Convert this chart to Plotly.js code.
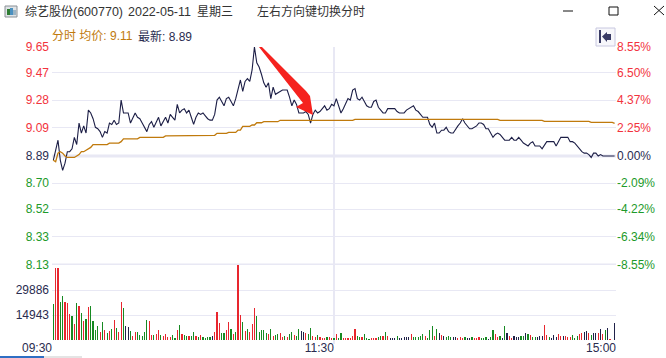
<!DOCTYPE html>
<html><head><meta charset="utf-8">
<script src="https://cdn.plot.ly/plotly-3.0.1.min.js"></script>
<style>html,body{margin:0;padding:0;background:#fff;overflow:hidden}#c{width:666px;height:358px}</style>
</head><body><div id="c"></div>
<script>
const priceTicks=[9.65,9.47,9.28,9.09,8.89,8.70,8.52,8.33,8.13];
const pctLabels=['8.55%','6.50%','4.37%','2.25%','0.00%','-2.09%','-4.22%','-6.34%','-8.55%'];
const volTicks=[14943,29886];
const timeLabels=['09:30','11:30','15:00'];
const price=[
8.86,8.93,9.00,8.86,8.79,8.84,8.92,8.92,8.94,9.02,
8.97,9.12,9.05,9.10,9.05,9.21,9.19,9.15,9.09,9.08,
9.06,9.02,9.06,9.05,9.12,9.11,9.14,9.11,9.12,9.28,
9.19,9.19,9.19,9.12,9.16,9.19,9.16,9.15,9.12,9.09,
9.06,9.11,9.13,9.09,9.13,9.16,9.10,9.13,9.16,9.12,
9.18,9.16,9.14,9.25,9.19,9.21,9.22,9.19,9.21,9.16,
9.11,9.16,9.19,9.18,9.19,9.17,9.15,9.14,9.14,9.18,
9.28,9.30,9.27,9.24,9.29,9.30,9.27,9.24,9.29,9.36,
9.42,9.34,9.41,9.43,9.41,9.49,9.65,9.54,9.51,9.46,
9.40,9.37,9.40,9.29,9.37,9.32,9.33,9.34,9.35,9.35,
9.35,9.30,9.24,9.28,9.25,9.19,9.19,9.19,9.20,9.18,
9.12,9.18,9.21,9.19,9.20,9.22,9.24,9.21,9.22,9.25,
9.24,9.29,9.24,9.19,9.22,9.26,9.29,9.28,9.35,9.36,
9.29,9.28,9.30,9.27,9.24,9.23,9.23,9.27,9.28,9.23,
9.21,9.19,9.19,9.22,9.22,9.22,9.22,9.20,9.19,9.19,
9.19,9.21,9.22,9.23,9.24,9.21,9.20,9.18,9.16,9.16,
9.16,9.11,9.09,9.12,9.05,9.05,9.07,9.07,9.09,9.06,
9.05,9.05,9.08,9.10,9.12,9.15,9.12,9.10,9.08,9.08,
9.09,9.10,9.12,9.12,9.11,9.08,9.08,9.05,9.02,9.04,
9.05,9.04,9.02,9.00,9.00,9.00,9.02,9.00,9.00,9.02,
9.00,8.98,8.97,8.96,8.98,8.99,8.96,8.96,8.96,8.94,
8.97,8.99,8.99,8.99,8.99,8.96,8.99,9.02,9.02,9.02,
9.02,8.99,8.99,8.98,8.96,8.94,8.92,8.91,8.91,8.90,
8.88,8.91,8.91,8.89,8.90,8.89,8.89,8.89,8.89,8.89,8.89];
const avgPrice=[
8.86,8.85,8.91,8.92,8.91,8.89,8.88,8.88,8.88,8.88,
8.89,8.90,8.92,8.92,8.93,8.94,8.95,8.97,8.97,8.97,
8.97,8.97,8.97,8.97,8.98,8.98,8.98,8.98,8.98,8.99,
9.01,9.01,9.01,9.01,9.01,9.01,9.01,9.02,9.02,9.02,
9.02,9.02,9.02,9.02,9.02,9.02,9.02,9.02,9.03,9.03,
9.03,9.03,9.03,9.03,9.03,9.034,9.034,9.034,9.034,9.034,
9.034,9.034,9.034,9.034,9.034,9.034,9.034,9.034,9.034,9.034,
9.048,9.048,9.048,9.048,9.048,9.055,9.055,9.055,9.055,9.071,
9.071,9.097,9.097,9.097,9.097,9.106,9.106,9.122,9.122,9.122,
9.129,9.129,9.129,9.129,9.129,9.129,9.129,9.139,9.139,9.139,
9.139,9.139,9.139,9.139,9.139,9.139,9.139,9.139,9.139,9.139,
9.139,9.139,9.139,9.139,9.139,9.139,9.139,9.139,9.139,9.139,
9.139,9.139,9.139,9.139,9.139,9.139,9.139,9.139,9.139,9.146,
9.146,9.146,9.146,9.146,9.146,9.146,9.146,9.146,9.146,9.146,
9.146,9.146,9.146,9.146,9.146,9.146,9.146,9.146,9.146,9.146,
9.146,9.146,9.146,9.146,9.146,9.146,9.146,9.146,9.146,9.146,
9.146,9.146,9.146,9.146,9.146,9.146,9.146,9.146,9.146,9.146,
9.146,9.146,9.146,9.146,9.146,9.146,9.146,9.146,9.146,9.146,
9.146,9.146,9.146,9.146,9.146,9.146,9.146,9.146,9.146,9.146,
9.146,9.139,9.139,9.139,9.139,9.139,9.139,9.139,9.139,9.139,
9.139,9.139,9.139,9.139,9.139,9.139,9.139,9.139,9.139,9.139,
9.132,9.132,9.132,9.132,9.132,9.132,9.132,9.132,9.132,9.132,
9.132,9.132,9.132,9.132,9.132,9.132,9.132,9.132,9.132,9.132,
9.125,9.125,9.125,9.125,9.125,9.125,9.125,9.125,9.125,9.125,9.118];
const volume=[
21500,43000,43000,22700,26300,22700,21900,15500,14300,9550,
22100,20300,16100,11300,12500,19700,20300,11300,6000,8400,
4800,10700,6000,4200,5400,6600,11900,7200,4800,22700,
19100,8400,7800,5400,2400,4800,4800,3000,2400,4800,
11900,11300,3000,3000,3600,6000,3000,2400,3600,1800,
1800,3000,1200,6000,9000,3600,3000,2400,2400,2400,4800,
2400,1800,3000,1800,1200,1800,1800,2400,4800,16700,
10100,4200,4200,6000,10700,6600,3600,4800,44800,14900,
10700,5400,6600,4800,9550,19100,14300,4800,6000,6000,
4200,3600,6600,2400,3000,3600,4200,1800,2400,1800,
3600,4800,3000,2400,6600,5400,4800,4200,3600,7200,
2400,1800,3000,1800,1200,1200,1800,1800,1200,1200,
3600,1200,4200,1200,1200,1200,1200,2400,6600,2400,
1800,1800,3600,1200,600,1200,1200,1200,1800,2400,
2400,4800,2400,1200,1200,1200,2400,1200,1200,1800,
1800,1800,3600,1800,1800,1800,2400,3600,2400,1200,
6000,8400,2400,6600,4200,3000,2400,1800,2400,1800,
1800,1800,1200,1800,1200,1800,1200,1200,1800,1200,
1200,1800,1200,1200,1800,600,1800,6000,3600,1800,
2400,1200,8400,4200,2400,1200,2400,1800,1800,2400,
2400,4200,3600,3000,1800,1800,1800,2400,2400,9000,
3000,1800,1200,3000,1800,3600,2400,2400,2400,1800,
1800,3000,1200,2400,3600,4200,4800,5400,4200,3000,
4200,4200,4200,6600,3600,6000,7200,600,0,10100];
const volumeDir=(
'd u u d d u u u d u d u d u d u d d d d u d u d u d u d u u d f f d u u d d d d '+
'd u u d u u d u u u u d d u d u d d u d d '+
'u d u d d d d f u u u d d u u d u d u u d u d u u u d d d d '+
'd u d u d d u u d u d d u d d f f u d d u u d u u u d u u d '+
'u d d u u u u u u d d u d d d u u u d d u d u f f f d f f f '+
'f f u d d d d d u d d d u d f u f d d d f f u u u d f f d u '+
'u u d d d f d d u u d f d f u u f f f d d f d u d d f f f u '+
'u d f f f u u f u u u d d d u u f f u d f f u f u d f u f f').trim().split(/\s+/);
const dirColor={u:'#e8262e',d:'#178a22',f:'#20224a'};
const RED='#f2333d',GRN='#1d9a2a',DARK='#2a2c50',GRID='#e8e8f4',ORG='#c07a0c';
const colorFor=v=>v>8.89?RED:(v<8.89?GRN:DARK);
const minutes=price.map((_,i)=>i);
const W=666,H=358,L=52,R=50,T=47,B=14,PW=W-L-R,PH=H-T-B;
const px=x=>(x-L)/PW, py=y=>(H-B-y)/PH;
const pts=a=>'M'+a.map(p=>px(p[0]).toFixed(5)+','+py(p[1]).toFixed(5)).join('L')+'Z';
const poly=(a,fill,line,lw)=>({type:'path',xref:'paper',yref:'paper',path:pts(a),fillcolor:fill,line:{color:line||fill,width:lw||0},layer:'above'});
const seg=(x0,y0,x1,y1,c,w)=>({type:'line',xref:'paper',yref:'paper',x0:px(x0),y0:py(y0),x1:px(x1),y1:py(y1),line:{color:c,width:w},layer:'above'});
const rect=(x0,y0,x1,y1,f,c,w)=>({type:'rect',xref:'paper',yref:'paper',x0:px(x0),y0:py(y0),x1:px(x1),y1:py(y1),fillcolor:f,line:{color:c||f,width:w||0},layer:'above'});
const note=(x,y,t,c,s)=>({xref:'paper',yref:'paper',x:px(x),y:py(y),text:t,showarrow:false,xanchor:'left',yanchor:'middle',font:{size:s||12,color:c,family:'Liberation Sans, Noto Sans CJK SC, sans-serif'},borderpad:0,borderwidth:0});
const traces=[
 {type:'bar',x:minutes,y:volume,xaxis:'x',yaxis:'y2',width:0.5,marker:{color:volumeDir.map(d=>dirColor[d]),line:{width:0}},hoverinfo:'skip'},
 {type:'scatter',mode:'lines',x:minutes,y:price,xaxis:'x',yaxis:'y',line:{color:'#1c1e46',width:1.1},hoverinfo:'skip'},
 {type:'scatter',mode:'lines',x:minutes,y:avgPrice,xaxis:'x',yaxis:'y',line:{color:ORG,width:1.3},hoverinfo:'skip'},
 {type:'scatter',mode:'lines',x:minutes,y:price,xaxis:'x',yaxis:'y3',line:{width:0},opacity:0,hoverinfo:'skip'}
];
const split=(H-B-265)/PH;
const layout={width:W,height:H,margin:{l:L,r:R,t:T,b:B,pad:0},paper_bgcolor:'#fff',plot_bgcolor:'#fff',showlegend:false,bargap:0,
 font:{family:'Liberation Sans, Noto Sans CJK SC, sans-serif',size:12,color:DARK},
 xaxis:{anchor:'y2',domain:[0,1],range:[-0.56,240.6],tickmode:'array',tickvals:[-0.56,120,240.6],ticktext:timeLabels,ticklabelposition:'outside left',ticklabelstandoff:-5,ticks:'',showgrid:true,gridcolor:GRID,gridwidth:2,zeroline:false,showline:false,automargin:false,tickfont:{size:12,color:DARK}},
 yaxis:{domain:[split,1],range:[8.13,9.65],tickmode:'array',tickvals:priceTicks,ticktext:priceTicks.map(v=>`<span style="color:${colorFor(v)}">${v.toFixed(2)}</span>`),ticks:'',ticklabelstandoff:2,showgrid:true,gridcolor:GRID,gridwidth:1,zeroline:false,showline:false,automargin:false},
 yaxis2:{domain:[0,split],range:[-2391,44829],tickmode:'array',tickvals:volTicks,ticktext:volTicks.map(String),ticks:'',ticklabelstandoff:2,showgrid:true,gridcolor:GRID,gridwidth:1,zeroline:false,showline:false,automargin:false,tickfont:{size:12,color:DARK}},
 yaxis3:{overlaying:'y',side:'right',anchor:'x',range:[8.13,9.65],tickmode:'array',tickvals:priceTicks,ticktext:pctLabels.map((t,i)=>`<span style="color:${colorFor(priceTicks[i])}">${t}</span>`),ticks:'',showgrid:false,zeroline:false,showline:false,automargin:false},
 shapes:[
  {type:'line',xref:'paper',x0:0,x1:1,yref:'y',y0:8.89,y1:8.89,line:{color:GRID,width:3},layer:'below'},
  {type:'line',xref:'paper',x0:0,x1:1,yref:'y',y0:8.13,y1:8.13,line:{color:GRID,width:3},layer:'below'},
  poly([[259,47],[262,47],[306,91],[310,96],[313,115],[296,107],[303,103]],'#f5221e'),
  rect(5,6,17,17,'#dfe3e6','#8a9096',1),
  rect(7,9,10,15,'#2e7d32'),rect(10,8,13,15,'#4a90c0'),rect(13,10,16,15,'#9bb4c4'),
  seg(563,11,573,11,'#111',1),
  rect(609,7,618,15,'rgba(0,0,0,0)','#111',1),
  seg(654,6,664,15,'#111',1),seg(664,6,654,15,'#111',1),
  rect(596,28,615,46,'#f7f7fb','#c8c8e0',1),
  rect(599,30,601,43,'#3a3c66'),
  poly([[602,36.5],[607,32],[607,34],[611,34],[611,40],[607,40],[607,42]],'#3a3c66'),
  rect(0,356,44,358,'#2f6fc4'),rect(44,356,82,358,'#e4e4e4')
 ],
 annotations:[
  note(25,12,'综艺股份','#333'),
  note(73,12,'(600770)','#333',12.5),
  note(127.5,12,'2022-05-11','#333',12.5),
  note(197,12,'星期三','#333'),
  note(257,12,'左右方向键切换分时','#333'),
  note(52,36,'分时 均价: 9.11',ORG),
  note(138,36,'最新: 8.89',DARK)
 ]
};
Plotly.newPlot('c',traces,layout,{displayModeBar:false,staticPlot:true});
</script></body></html>
